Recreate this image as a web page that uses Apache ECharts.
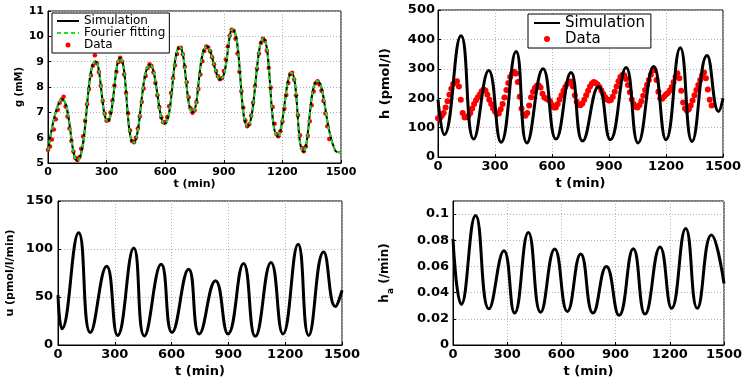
<!DOCTYPE html>
<html><head><meta charset="utf-8">
<script src="https://cdn.jsdelivr.net/npm/echarts@6/dist/echarts.min.js"></script>
<style>html,body{margin:0;padding:0;background:#fff}#c{width:748px;height:379px}</style>
</head><body><div id="c"></div>
<script>
// ---- data ----
const dataStep = 10; // sampling interval (min) of measured data
// g (mM): simulation curve extremes [t, g]
const gSim = [[0,5.5],[73,7.52],[149,5.1],[243,9.02],[305,6.65],[369,9.14],[438,5.8],[522,8.88],[597,6.55],[674,9.58],[740,7.0],[814,9.6],[882,8.3],[944,10.28],[1022,6.45],[1102,9.91],[1176,6.05],[1246,8.56],[1307,5.45],[1378,8.24],[1470,5.5],[1500,5.42]];
const gFit = gSim;
const gData = [5.52,5.65,5.93,6.32,6.73,7.10,7.38,7.51,7.62,7.23,
 6.84,6.36,5.87,5.45,5.20,5.12,5.23,5.56,6.06,6.67,
 7.32,7.92,8.46,8.84,9.25,8.94,8.59,8.05,7.46,6.95,
 6.67,6.70,6.99,7.47,8.05,8.59,8.99,9.15,9.00,8.49,
 7.76,6.96,6.28,5.87,5.82,6.00,6.36,6.85,7.41,7.94,
 8.43,8.75,8.90,8.83,8.57,8.16,7.67,7.21,6.81,6.61,
 6.61,6.82,7.24,7.76,8.35,8.86,9.30,9.54,9.55,9.29,
 8.80,8.19,7.60,7.16,6.98,7.08,7.40,7.92,8.49,9.02,
 9.42,9.60,9.56,9.41,9.17,8.90,8.63,8.42,8.31,8.35,
 8.63,9.09,9.60,10.02,10.26,10.22,9.90,9.32,8.60,7.83,
 7.18,6.68,6.45,6.53,6.87,7.38,8.04,8.72,9.32,9.74,
 9.90,9.83,9.43,8.75,7.98,7.21,6.55,6.13,6.06,6.25,
 6.63,7.14,7.68,8.16,8.50,8.56,8.30,7.67,6.88,6.10,
 5.59,5.46,5.65,6.08,6.65,7.28,7.82,8.15,8.23,8.10,
 7.85,7.45,6.95,6.45,5.95];
// h (pmol/l)
const hSim = [[0,195],[33,76],[121,412],[188,61],[267,294],[332,50],[411,359],[468,48],[553,300],[621,61],[700,287],[761,54],[845,240],[907,59],[990,304],[1053,48],[1135,308],[1200,59],[1275,372],[1337,53],[1416,345],[1477,155],[1500,200]];
const hData = [132,133,140,150,168,190,212,232,248,256,
 258,240,195,150,134,135,140,150,165,180,
 193,203,213,224,230,226,212,195,180,166,
 155,147,148,162,180,202,228,252,272,284,
 290,284,255,205,165,145,140,150,175,203,
 222,235,242,243,236,215,202,198,195,190,
 178,168,168,180,196,210,225,238,248,255,
 257,240,210,188,178,176,182,195,210,225,
 240,250,255,252,247,238,226,214,203,196,
 192,194,205,222,240,258,272,279,278,265,
 245,220,196,180,170,168,176,190,208,228,
 246,262,280,295,296,262,222,200,198,206,
 213,218,226,238,255,272,285,268,225,185,
 165,158,162,175,192,210,228,245,262,278,
 287,268,230,195,175];
// u (pmol/l/min)
const uSim = [[0,52],[21,17],[109,117],[171,13],[257,82],[315,10],[400,101],[456,9.5],[545,84],[602,13],[690,79],[746,11.5],[832,67],[898,11.5],[980,85],[1042,9],[1125,86],[1188,11.5],[1268,105],[1324,10],[1403,97],[1465,40],[1500,57]];
// h_a (/min)
const haSim = [[0,0.081],[46,0.031],[125,0.099],[199,0.0276],[282,0.072],[341,0.0244],[417,0.086],[485,0.025],[563,0.0734],[633,0.0256],[707,0.0695],[775,0.0244],[849,0.060],[919,0.0227],[998,0.0736],[1063,0.0236],[1146,0.0749],[1210,0.028],[1288,0.089],[1352,0.028],[1430,0.084],[1500,0.047]];
const legendNames = {gSim:'Simulation', gFit:'Fourier fitting', gData:'Data', hSim:'Simulation', hData:'Data'};

// ---- chart ----
const FONT = 'DejaVu Sans';
const chart = echarts.init(document.getElementById('c'), null, {renderer:'canvas'});
const toPairs = arr => arr.map((v,i)=>[i*dataStep, v]);
const plain = v => String(v);

function xAx(i, fs, margin, gap){
  return {type:'value', gridIndex:i, min:0, max:1500, interval:300,
    name:'t (min)', nameLocation:'middle', nameGap:gap,
    nameTextStyle:{fontFamily:FONT, fontWeight:'bold', fontSize:fs, color:'#000'},
    axisLine:{show:true, onZero:false, lineStyle:{color:'#000'}},
    axisTick:{show:true, inside:true, length:3, lineStyle:{color:'#000'}},
    axisLabel:{fontFamily:FONT, fontWeight:'bold', fontSize:fs, color:'#000', margin:margin, formatter:plain},
    splitLine:{show:true, lineStyle:{color:'#b4b4b4', type:[1,2]}}};
}
function yAx(i, min, max, interval, name, fs, nfs, margin, gap, extra){
  const a = {type:'value', gridIndex:i, min:min, max:max, interval:interval,
    name:name, nameLocation:'middle', nameGap:gap, nameRotate:90,
    nameTextStyle:{fontFamily:FONT, fontWeight:'bold', fontSize:nfs, color:'#000'},
    axisLine:{show:true, onZero:false, lineStyle:{color:'#000'}},
    axisTick:{show:true, inside:true, length:3, lineStyle:{color:'#000'}},
    axisLabel:{fontFamily:FONT, fontWeight:'bold', fontSize:fs, color:'#000', margin:margin},
    splitLine:{show:true, lineStyle:{color:'#b4b4b4', type:[1,2]}}};
  return Object.assign(a, extra||{});
}
const noSym = {color:'rgba(0,0,0,0)', borderColor:'rgba(0,0,0,0)', borderWidth:0, opacity:0};

const gridBase = {show:true, borderColor:'#000', borderWidth:1, backgroundColor:'transparent', containLabel:false};
const option = {
  animation:false,
  backgroundColor:'#fff',
  grid:[
    Object.assign({left:48, top:11, width:293, height:152}, gridBase),
    Object.assign({left:438, top:10, width:285, height:147}, gridBase),
    Object.assign({left:58, top:201, width:284, height:147}, gridBase),
    Object.assign({left:453, top:201, width:271, height:147}, gridBase)
  ],
  xAxis:[ xAx(0, 11, 4, 15), xAx(1, 13, 3, 20), xAx(2, 13, 3, 20), xAx(3, 13, 3, 20) ],
  yAxis:[
    yAx(0, 5, 11, 1, 'g (mM)', 11, 10, 4, 24),
    yAx(1, 0, 500, 100, 'h (pmol/l)', 13, 13, 3, 46),
    yAx(2, 0, 150, 50, 'u (pmol/l/min)', 13, 11, 5, 42),
    yAx(3, 0, 0.11, 0.02, '{m|h}{s|a}{m| (/min)}', 13, 12, 4, 60,
      {axisLabel:{fontFamily:FONT, fontWeight:'bold', fontSize:13, color:'#000', margin:4, showMaxLabel:false},
       nameTextStyle:{fontFamily:FONT, fontWeight:'bold', fontSize:12, color:'#000',
         rich:{m:{fontFamily:FONT, fontWeight:'bold', fontSize:12, lineHeight:14, verticalAlign:'top'},
               s:{fontFamily:FONT, fontWeight:'bold', fontSize:9, lineHeight:10, padding:[7,0,0,0], verticalAlign:'top'}}}})
  ],
  legend:[
    {data:[{name:'gSim', itemStyle:noSym},{name:'gFit', itemStyle:noSym},'gData'], formatter:n=>legendNames[n], orient:'vertical', left:52, top:13,
     backgroundColor:'#fff', borderColor:'#000', borderWidth:1, padding:[2,4,2,4], itemGap:0,
     itemWidth:22, itemHeight:5, selectedMode:false,
     textStyle:{fontFamily:FONT, fontSize:12, color:'#000', lineHeight:11}},
    {data:[{name:'hSim', itemStyle:noSym},'hData'], formatter:n=>legendNames[n], orient:'vertical', left:528, top:14,
     backgroundColor:'#fff', borderColor:'#000', borderWidth:1, padding:[1,6,1,5], itemGap:0,
     itemWidth:26, itemHeight:6, selectedMode:false,
     textStyle:{fontFamily:FONT, fontSize:15, color:'#000', lineHeight:16}}
  ],
  series:[
    {name:'gSim', type:'line', xAxisIndex:0, yAxisIndex:0, data:gSim, smooth:0.5, showSymbol:false, symbol:'none',
     lineStyle:{color:'#000', width:2}, itemStyle:{color:'#000'}},
    {name:'gFit', type:'line', xAxisIndex:0, yAxisIndex:0, data:gFit, smooth:0.5, showSymbol:false, symbol:'none',
     lineStyle:{color:'#22dd22', width:2, type:[4,3]}, itemStyle:{color:'#22dd22'}},
    {name:'gData', type:'scatter', xAxisIndex:0, yAxisIndex:0, data:toPairs(gData), symbol:'circle', symbolSize:4.5,
     itemStyle:{color:'#ff0000', opacity:1}},
    {name:'hSim', type:'line', xAxisIndex:1, yAxisIndex:1, data:hSim, smooth:0.5, showSymbol:false, symbol:'none',
     lineStyle:{color:'#000', width:3}, itemStyle:{color:'#000'}},
    {name:'hData', type:'scatter', xAxisIndex:1, yAxisIndex:1, data:toPairs(hData), symbol:'circle', symbolSize:6,
     itemStyle:{color:'#ff0000', opacity:1}},
    {name:'uSim', type:'line', xAxisIndex:2, yAxisIndex:2, data:uSim, smooth:0.5, showSymbol:false, symbol:'none',
     lineStyle:{color:'#000', width:3}},
    {name:'haSim', type:'line', xAxisIndex:3, yAxisIndex:3, data:haSim, smooth:0.5, showSymbol:false, symbol:'none',
     lineStyle:{color:'#000', width:3}}
  ]
};
chart.setOption(option);
</script>
</body></html>
